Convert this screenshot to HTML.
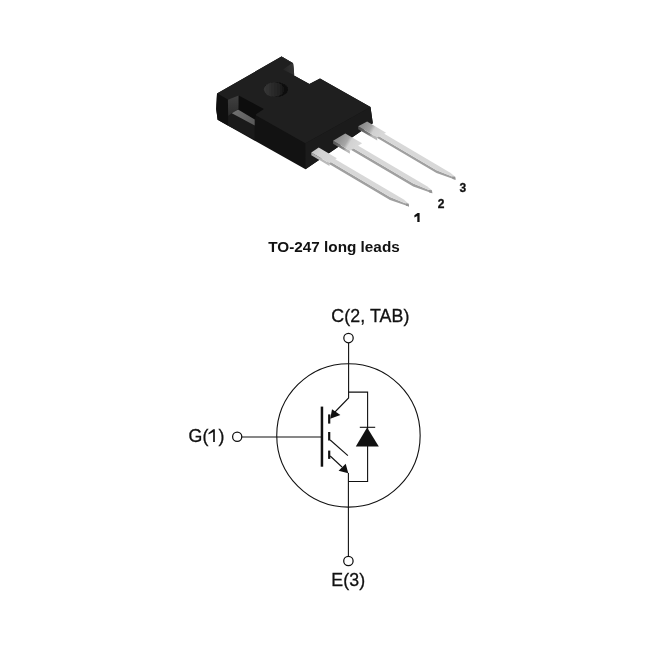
<!DOCTYPE html>
<html><head><meta charset="utf-8"><style>
html,body{margin:0;padding:0;background:#fff;width:672px;height:651px;overflow:hidden}
svg{position:absolute;left:0;top:0;will-change:transform}
</style></head><body>
<svg width="672" height="651" viewBox="0 0 672 651">
<defs>
<linearGradient id="ls0" gradientUnits="userSpaceOnUse" x1="315.00" y1="149.98" x2="333.20" y2="160.72"><stop offset="0" stop-color="#a8a8a8"/><stop offset="0.4" stop-color="#b8b8b8"/><stop offset="1" stop-color="#bcbcbc"/></linearGradient><linearGradient id="lt0" gradientUnits="userSpaceOnUse" x1="315.00" y1="149.98" x2="333.20" y2="160.72"><stop offset="0" stop-color="#c8c8c8"/><stop offset="0.3" stop-color="#d4d4d4"/><stop offset="1" stop-color="#d8d8d8"/></linearGradient><linearGradient id="ls1" gradientUnits="userSpaceOnUse" x1="339.20" y1="137.14" x2="356.00" y2="147.06"><stop offset="0" stop-color="#5a5a5a"/><stop offset="0.5" stop-color="#8a8a8a"/><stop offset="0.65" stop-color="#b8b8b8"/><stop offset="1" stop-color="#bcbcbc"/></linearGradient><linearGradient id="lt1" gradientUnits="userSpaceOnUse" x1="339.20" y1="137.14" x2="356.00" y2="147.06"><stop offset="0" stop-color="#8e8e8e"/><stop offset="0.45" stop-color="#a8a8a8"/><stop offset="0.62" stop-color="#d2d2d2"/><stop offset="1" stop-color="#d8d8d8"/></linearGradient><linearGradient id="ls2" gradientUnits="userSpaceOnUse" x1="362.65" y1="123.86" x2="381.65" y2="135.07"><stop offset="0" stop-color="#505050"/><stop offset="0.5" stop-color="#808080"/><stop offset="0.65" stop-color="#b4b4b4"/><stop offset="1" stop-color="#bcbcbc"/></linearGradient><linearGradient id="lt2" gradientUnits="userSpaceOnUse" x1="362.65" y1="123.86" x2="381.65" y2="135.07"><stop offset="0" stop-color="#8c8c8c"/><stop offset="0.4" stop-color="#a4a4a4"/><stop offset="0.58" stop-color="#d0d0d0"/><stop offset="1" stop-color="#d8d8d8"/></linearGradient>
<linearGradient id="wallg" x1="0" y1="0" x2="0" y2="1"><stop offset="0" stop-color="#404040"/><stop offset="1" stop-color="#2c2c2c"/></linearGradient>
<linearGradient id="floorg" gradientUnits="userSpaceOnUse" x1="232" y1="112" x2="255" y2="122"><stop offset="0" stop-color="#727272"/><stop offset="1" stop-color="#5a5a5a"/></linearGradient>
<linearGradient id="sg" x1="0" y1="0" x2="0" y2="1"><stop offset="0" stop-color="#b4b4b4"/><stop offset="1" stop-color="#a4a4a4"/></linearGradient>
<linearGradient id="tabg" gradientUnits="userSpaceOnUse" x1="284" y1="70" x2="294" y2="68"><stop offset="0" stop-color="#262626"/><stop offset="1" stop-color="#343434"/></linearGradient>
<linearGradient id="holeg" gradientUnits="userSpaceOnUse" x1="264" y1="90" x2="284" y2="90"><stop offset="0" stop-color="#363636"/><stop offset="0.45" stop-color="#2a2a2a"/><stop offset="0.8" stop-color="#202020"/><stop offset="1" stop-color="#141414"/></linearGradient>
<filter id="bl" x="-20%" y="-20%" width="140%" height="140%"><feGaussianBlur stdDeviation="0.5"/></filter>
</defs>
<rect width="672" height="651" fill="#fff"/>
<polygon points="217.00,93.50 281.50,56.50 293.00,63.20 294.00,75.50 309.40,83.90 320.00,78.60 370.50,106.90 372.80,123.30 305.50,169.20 217.60,119.80 216.20,109.00" fill="#121212"/>
<polygon points="305.30,143.30 370.50,106.90 372.80,123.30 305.50,169.20" fill="#1b1b1b"/>
<polygon points="217.00,93.50 281.50,56.50 293.00,63.20 294.00,75.50 309.40,83.90 320.00,78.60 370.50,106.90 305.30,143.30" fill="#1f1f1f"/>
<polygon points="217.00,93.50 216.20,109.00 217.60,119.80 228.20,125.80 227.90,99.80" fill="#0f0f0f"/>
<polygon points="228.20,115.90 231.80,113.20 254.70,125.40 254.70,139.60 228.20,125.80" fill="#1a1a1a"/>
<polygon points="227.90,99.80 238.70,95.60 238.70,108.70 228.20,115.90" fill="url(#wallg)"/>
<polygon points="238.70,95.60 263.90,109.00 256.00,114.20 254.70,119.50 238.00,109.60 231.80,113.20 228.20,115.90 238.70,108.70" fill="#0d0d0d"/>
<polygon points="231.80,113.20 238.00,109.60 254.70,119.50 254.70,125.40" fill="url(#floorg)"/>
<polygon points="283.10,69.60 292.20,63.00 293.20,63.60 294.30,75.20" fill="url(#tabg)"/>
<polyline points="281.50,56.90 292.80,63.40" stroke="#2a2a2a" stroke-width="0.9" fill="none"/>
<g filter="url(#bl)"><ellipse cx="275.95" cy="89.6" rx="12.1" ry="7.3" fill="#0d0d0d"/><ellipse cx="274.1" cy="89.6" rx="10.3" ry="7.25" fill="url(#holeg)"/></g>
<polygon points="327.00,159.81 390.00,196.98 408.80,204.63 408.70,203.67 409.00,206.54 390.00,199.88 327.00,162.71" fill="#a0a0a0"/>
<polygon points="327.00,159.81 331.48,156.96 403.80,199.62 408.70,203.67 408.80,204.63 390.00,196.98" fill="#d8d8d8"/>
<polygon points="405.50,203.28 408.70,203.67 409.00,206.54 406.00,205.87" fill="#959595"/>
<polygon points="311.30,152.40 329.50,163.14 329.50,166.04 311.30,155.30" fill="url(#ls0)"/>
<polygon points="311.30,152.40 318.70,147.57 336.90,158.30 329.50,163.14" fill="url(#lt0)"/>
<polygon points="347.40,144.73 413.25,183.58 432.05,191.23 431.95,190.27 432.25,193.14 413.25,186.48 347.40,147.63" fill="#a0a0a0"/>
<polygon points="347.40,144.73 351.88,141.88 427.05,186.22 431.95,190.27 432.05,191.23 413.25,183.58" fill="#d8d8d8"/>
<polygon points="428.75,189.88 431.95,190.27 432.25,193.14 429.25,192.47" fill="#959595"/>
<polygon points="333.10,140.84 349.90,150.76 349.90,153.66 333.10,143.74" fill="url(#ls1)"/>
<polygon points="333.10,140.84 345.30,133.44 362.10,143.35 349.90,150.76" fill="url(#lt1)"/>
<polygon points="374.70,133.72 436.50,170.18 455.30,177.83 455.20,176.87 455.50,179.74 436.50,173.08 374.70,136.62" fill="#a0a0a0"/>
<polygon points="374.70,133.72 379.18,130.87 450.30,172.82 455.20,176.87 455.30,177.83 436.50,170.18" fill="#d8d8d8"/>
<polygon points="452.00,176.48 455.20,176.87 455.50,179.74 452.50,179.07" fill="#959595"/>
<polygon points="358.20,126.27 377.20,137.48 377.20,140.38 358.20,129.17" fill="url(#ls2)"/>
<polygon points="358.20,126.27 367.10,121.46 386.10,132.67 377.20,137.48" fill="url(#lt2)"/>
<g font-family="'Liberation Sans', sans-serif" font-weight="bold" font-size="12" fill="#111" stroke="#111" stroke-width="0.3">

<text x="437.8" y="207.7">2</text>
<text x="459.4" y="191.9">3</text>
</g>
<polygon points="417.3,213 419.6,213 419.6,221.9 417.3,221.9 417.3,215.9 414.4,217.4 414.4,215.3 417.6,213" fill="#111"/>
<text x="334" y="252" text-anchor="middle" font-family="'Liberation Sans', sans-serif" font-weight="bold" font-size="15.3" fill="#111">TO-247 long leads</text>
<polygon points="213.15,429.2 214.85,429.2 214.85,441.9 213.15,441.9 213.15,431.9 208.5,434.6 208.5,432.9 213.3,429.2" fill="#111"/>
<g font-family="'Liberation Sans', sans-serif" font-size="17.8" fill="#111" letter-spacing="0.1" stroke="#111" stroke-width="0.3">
<text x="331.2" y="322.3">C(2, TAB)</text>
<text x="188.6" y="442">G(</text><text x="218.58" y="442">)</text>
<text x="331.2" y="586.3">E(3)</text>
</g>
<g stroke="#111" stroke-width="1.1" fill="none">
<circle cx="348.45" cy="435.4" r="71.7"/>
<circle cx="348.5" cy="338.1" r="4.7" stroke-width="1.25"/>
<circle cx="237.2" cy="436.8" r="4.6" stroke-width="1.25"/>
<circle cx="348.4" cy="561" r="4.7" stroke-width="1.25"/>
<path d="M348.6 342.8 V398 L333 414"/>
<path d="M348.6 392.1 H367.6 V481.5 H348.4"/>
<path d="M348.4 473 V556.3"/>
<path d="M241.6 437 H321.5"/>
<path d="M330.2 440 L347.9 455.7"/>
<path d="M330.2 456 L342 467"/>
<path d="M359.8 427.3 H375.2"/>
</g>
<g fill="#111">
<rect x="320.7" y="406.6" width="2.5" height="60.1"/>
<rect x="328.1" y="414.4" width="2.2" height="9.2"/>
<rect x="328.1" y="432.0" width="2.2" height="8.5"/>
<rect x="328.1" y="450.6" width="2.2" height="8.3"/>
<polygon points="330.2,418.7 332,409.2 340.4,415.1"/>
<polygon points="348.3,473.2 338.6,470.8 345.7,463.7"/>
<polygon points="367.1,427.4 355.8,446.4 378.8,446.4"/>
</g>
</svg>
</body></html>
